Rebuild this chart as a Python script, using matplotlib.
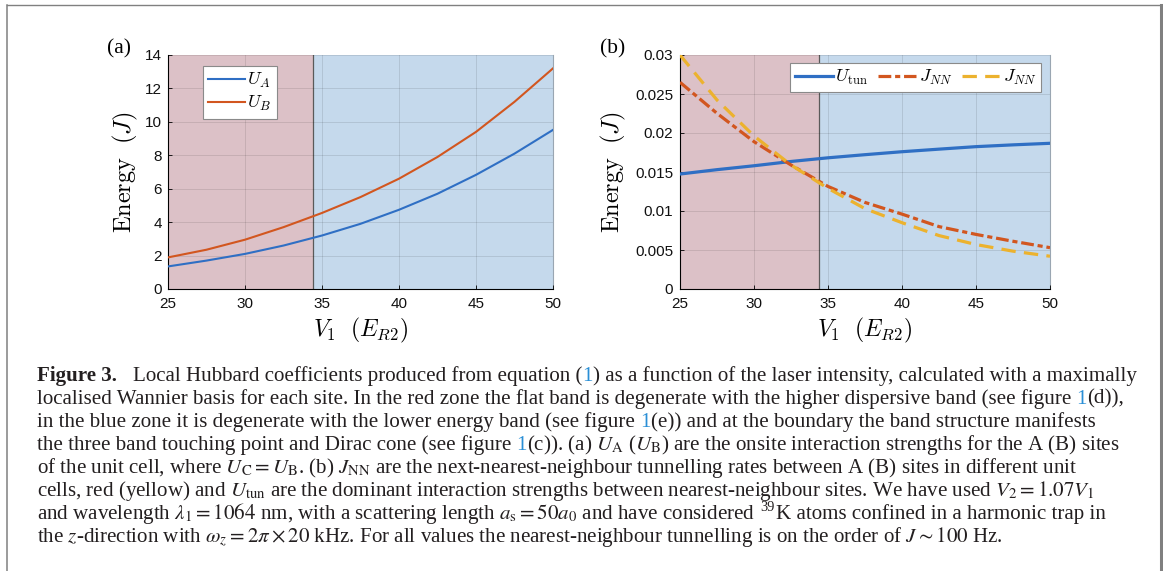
import matplotlib
matplotlib.use("Agg")
import matplotlib.pyplot as plt
from matplotlib.lines import Line2D

# ---------------- data ----------------
v1 = [25, 27.5, 30, 32.5, 35, 37.5, 40, 42.5, 45, 47.5, 50]
u_a = [1.35, 1.70, 2.10, 2.60, 3.20, 3.90, 4.74, 5.70, 6.83, 8.10, 9.52]
u_b = [1.89, 2.35, 2.95, 3.70, 4.55, 5.50, 6.60, 7.90, 9.40, 11.20, 13.20]
u_tun = [0.01474, 0.01530, 0.01580, 0.01635, 0.01682, 0.01722, 0.01760, 0.01793, 0.01825, 0.01848, 0.01868]
j_nn_red = [0.02650, 0.02252, 0.01889, 0.01590, 0.01315, 0.01110, 0.00960, 0.00800, 0.00700, 0.00612, 0.00530]
j_nn_yel = [0.03000, 0.02423, 0.01962, 0.01590, 0.01290, 0.01030, 0.00850, 0.00685, 0.00570, 0.00485, 0.00420]
boundary = 34.4
xticks = [25, 30, 35, 40, 45, 50]
yticks_a = [0, 2, 4, 6, 8, 10, 12, 14]
yticks_b = [0, 0.005, 0.01, 0.015, 0.02, 0.025, 0.03]
yticklabels_b = ["0", "0.005", "0.01", "0.015", "0.02", "0.025", "0.03"]

W, H = 1163, 571
plt.rcParams["mathtext.fontset"] = "cm"
fig = plt.figure(figsize=(W / 100, H / 100), dpi=100)
fig.patch.set_facecolor("white")

C_BLUE = "#2f6fc4"
C_RED = "#d2561f"
C_YEL = "#ecb22e"
PINK = "#dcc1c7"
LBLUE = "#c5d9ec"


def px_axes(x0, x1, y0, y1):
    return fig.add_axes([x0 / W, 1 - y1 / H, (x1 - x0) / W, (y1 - y0) / H])


def style_axes(ax, yticks, ylab=None, ypad=4.5):
    ax.set_xlim(25, 50)
    ax.axvspan(25, boundary, color=PINK, zorder=0, lw=0)
    ax.axvspan(boundary, 50, color=LBLUE, zorder=0, lw=0)
    ax.axvline(boundary, color="#5a5a5a", lw=0.9, zorder=1)
    ax.set_xticks(xticks)
    ax.set_yticks(yticks)
    if ylab is not None:
        ax.set_yticklabels(ylab)
    ax.grid(True, color="black", alpha=0.1, lw=0.7, zorder=0.5)
    ax.set_axisbelow(False)
    for sp in ["left", "bottom"]:
        ax.spines[sp].set_color("black")
        ax.spines[sp].set_linewidth(0.8)
    ax.spines["top"].set_visible(False)
    ax.spines["right"].set_color("#9aa6b2")
    ax.spines["right"].set_linewidth(0.8)
    ax.tick_params(direction="in", length=3, width=0.6, color="black",
                   labelsize=11, labelcolor="#111111")
    ax.tick_params(axis="x", pad=6)
    ax.tick_params(axis="y", pad=ypad)
    for lab in ax.get_xticklabels() + ax.get_yticklabels():
        lab.set_family("Liberation Sans")
    ax.set_xlabel(r"$V_1\ \ (E_{R2})$", fontsize=17)
    ax.set_ylabel(r"$\mathrm{Energy}\ \ (J)$", fontsize=17.5)
    ax.xaxis.label.set_va("center")
    ax.yaxis.label.set_va("center")


# ---------------- panel (a) ----------------
axa = px_axes(168, 553, 55, 289)
axa.plot(v1, u_a, color=C_BLUE, lw=1.5, label=r"$U_A$", zorder=3)
axa.plot(v1, u_b, color=C_RED, lw=1.5, label=r"$U_B$", zorder=3)
axa.set_ylim(0, 14)
style_axes(axa, yticks_a, ypad=4.5)
axa.xaxis.set_label_coords(0.5, (289 - 330) / 234)
axa.yaxis.set_label_coords((125 - 168) / 385, 0.5)
lega = axa.legend(loc="upper left", bbox_to_anchor=(203 / W, 1 - 66 / H),
                  bbox_transform=fig.transFigure, borderaxespad=0,
                  fontsize=13, handlelength=2.0, handletextpad=0.15,
                  labelspacing=0.2, borderpad=0.3, fancybox=False,
                  framealpha=1, edgecolor="#8a8a8a")
lega.get_frame().set_linewidth(0.8)
fig.text(119 / W, 1 - 49 / H, "(a)", family="Liberation Serif", fontsize=15.5,
         ha="center", va="center")

# ---------------- panel (b) ----------------
axb = px_axes(680, 1050, 55, 289)
axb.plot(v1, u_tun, color=C_BLUE, lw=2.3, label=r"$U_{\mathrm{tun}}$", zorder=3)
axb.plot(v1, j_nn_red, color=C_RED, lw=2.3, dashes=(4.0, 1.2, 1.6, 1.2),
         label=r"$J_{NN}$", zorder=3)
axb.plot(v1, j_nn_yel, color=C_YEL, lw=2.3, dashes=(4.5, 2.6),
         label=r"$J_{NN}$", zorder=3)
axb.set_ylim(0, 0.03)
style_axes(axb, yticks_b, yticklabels_b, ypad=5)
axb.xaxis.set_label_coords(0.5, (289 - 330) / 234)
axb.yaxis.set_label_coords((613 - 680) / 370, 0.5)
legb = axb.legend(loc="upper right", bbox_to_anchor=(1041 / W, 1 - 63 / H),
                  bbox_transform=fig.transFigure, borderaxespad=0, ncol=3,
                  fontsize=13, handlelength=2.1, handletextpad=0.15,
                  columnspacing=0.55, borderpad=0.28, fancybox=False,
                  framealpha=1, edgecolor="#8a8a8a")
legb.get_frame().set_linewidth(0.8)
fig.text(613 / W, 1 - 49 / H, "(b)", family="Liberation Serif", fontsize=15.5,
         ha="center", va="center")

# ---------------- frame ----------------
GR = "#808080"
fig.add_artist(Line2D([6.5 / W, 1160.5 / W], [1 - 4.5 / H, 1 - 4.5 / H],
                      transform=fig.transFigure, color=GR, lw=1.0))
fig.add_artist(Line2D([6.5 / W, 6.5 / W], [1 - 4.5 / H, 0],
                      transform=fig.transFigure, color=GR, lw=1.1))
fig.add_artist(Line2D([1160.5 / W, 1160.5 / W], [1 - 4.5 / H, 0],
                      transform=fig.transFigure, color=GR, lw=2.2))

# ---------------- caption ----------------
LINK = "#2a8fd6"
K = "#231f20"
B = "bold"
caption = [
    [("Figure 3.", B), ("GAP", None), ("Local Hubbard coefficients produced from equation (", None),
     ("1", "link"), (") as a function of the laser intensity, calculated with a maximally", None)],
    [("localised Wannier basis for each site. In the red zone the flat band is degenerate with the higher dispersive band (see figure", None),
     ("SP", None), ("1", "link"), ("(d)),", None)],
    [("in the blue zone it is degenerate with the lower energy band (see figure", None), ("SP", None),
     ("1", "link"), ("(e)) and at the boundary the band structure manifests", None)],
    [("the three band touching point and Dirac cone (see figure", None), ("SP", None), ("1", "link"),
     (r"(c)). (a) $U_{\mathrm{A}}$ ($U_{\mathrm{B}}$) are the onsite interaction strengths for the A (B) sites", None)],
    [(r"of the unit cell, where $U_{\mathrm{C}} = U_{\mathrm{B}}$. (b) $J_{\mathrm{NN}}$ are the next-nearest-neighbour tunnelling rates between A (B) sites in different unit", None)],
    [(r"cells, red (yellow) and $U_{\mathrm{tun}}$ are the dominant interaction strengths between nearest-neighbour sites. We have used $V_2 = 1.07V_1$", None)],
    [(r"and wavelength $\lambda_1 = 1064$ nm, with a scattering length $a_{\mathrm{s}} = 50a_0$ and have considered", None),
     ("SP", None), ("39", "sup"), ("K atoms confined in a harmonic trap in", None)],
    [(r"the $z$-direction with $\omega_z = 2\pi \times 20$ kHz. For all values the nearest-neighbour tunnelling is on the order of $J \sim 100$ Hz.", None)],
]

renderer = fig.canvas.get_renderer()


def draw_line(segs, x0, ybase, size):
    x = x0
    made = []
    spx = size * 100 / 72
    for s, st in segs:
        if s == "GAP":
            x += 16
            continue
        if s == "SP":
            x += spx * 0.25
            continue
        kw = dict(family="Liberation Serif", fontsize=size, ha="left",
                  va="baseline", math_fontfamily="stix", color=K)
        y = ybase
        if st == "bold":
            kw["weight"] = "bold"
        if st == "link":
            kw["color"] = LINK
        if st == "sup":
            kw["fontsize"] = size * 0.68
            y = ybase - spx * 0.36
        t = fig.text(x / W, 1 - y / H, s, **kw)
        made.append(t)
        bb = t.get_window_extent(renderer)
        x = bb.x1 + (1 if st == "sup" else 0)
    return x, made


# fit font size so that the first line spans 37 -> 1135 px
test_size = 12.0
xe, made = draw_line(caption[0], 37, 380.7, test_size)
for t in made:
    t.remove()
size = test_size * (1133 - 37 - 16) / (xe - 37 - 16)

for i, segs in enumerate(caption):
    draw_line(segs, 37, 380.7 + 23.0 * i, size)

fig.savefig("out.png", dpi=100, facecolor="white")
